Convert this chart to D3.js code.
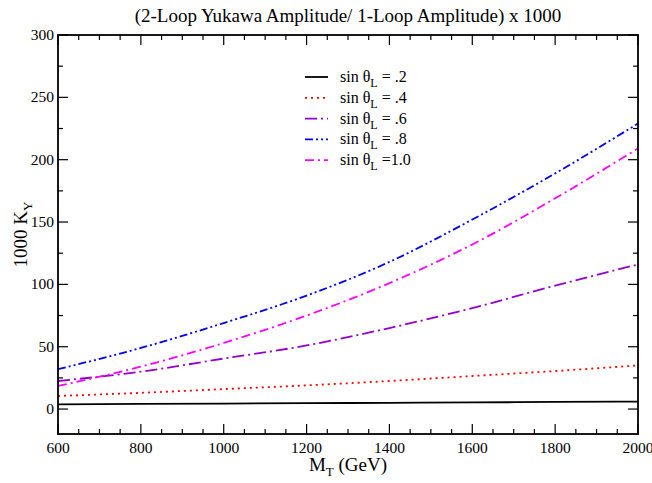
<!DOCTYPE html>
<html><head><meta charset="utf-8">
<script src="https://cdn.jsdelivr.net/npm/d3@7"></script>
<style>body{margin:0;background:#fff}svg{display:block}</style>
</head><body><svg id="c" width="652" height="483"></svg>
<script>
const masses = [600, 800, 1000, 1200, 1400, 1600, 1800, 2000];
const s02 = [3.8, 4.1, 4.4, 4.7, 5.0, 5.3, 5.7, 6.0];
const s04 = [10.5, 13, 16, 19, 22.5, 26.5, 30.5, 35];
const s06 = [22.5, 30, 40.5, 51, 65, 81, 99, 116];
const s08 = [32, 49, 69, 91, 118, 152, 189, 229];
const s10 = [18.5, 34, 53, 75, 101, 132, 169, 209];
const seriesLabels = [" = .2", " = .4", " = .6", " = .8", " =1.0"];
const xTicks = [600, 800, 1000, 1200, 1400, 1600, 1800, 2000];
const yTicks = [0, 50, 100, 150, 200, 250, 300];

const series = [
  {v: s02, color: "#000000", dash: null},
  {v: s04, color: "#ff0000", dash: "2,4"},
  {v: s06, color: "#9400d3", dash: "12,4,2,4"},
  {v: s08, color: "#0000ff", dash: "8,3,2,3,2,3"},
  {v: s10, color: "#ff00ff", dash: "9,4,2,4"}
];

const FONT = "Liberation Serif";
const L = 58, R = 638, T = 35, B = 434;
const x = d3.scaleLinear().domain([600, 2000]).range([L, R]);
const y = d3.scaleLinear().domain([-20, 300]).range([B, T]);
const svg = d3.select("#c");
const txt = (px, py, size, anchor) => svg.append("text").attr("x", px).attr("y", py)
  .attr("font-family", FONT).attr("font-size", size).attr("text-anchor", anchor || "start");

const line = d3.line().x((d, i) => x(masses[i])).y(d => y(d)).curve(d3.curveMonotoneX);
series.forEach(s => {
  svg.append("path").attr("d", line(s.v)).attr("fill", "none")
    .attr("stroke", s.color).attr("stroke-width", 1.8)
    .attr("stroke-dasharray", s.dash);
});

svg.append("rect").attr("x", L).attr("y", T).attr("width", R - L).attr("height", B - T)
  .attr("fill", "none").attr("stroke", "#000").attr("stroke-width", 1.8);

const g = svg.append("g").attr("stroke", "#000").attr("stroke-width", 1.2);
d3.range(600, 2001, 50).forEach(v => {
  const len = (v % 200 === 0) ? 10 : 5;
  g.append("line").attr("x1", x(v)).attr("x2", x(v)).attr("y1", B).attr("y2", B - len);
  g.append("line").attr("x1", x(v)).attr("x2", x(v)).attr("y1", T).attr("y2", T + len);
});
d3.range(0, 301, 25).forEach(v => {
  const len = (v % 50 === 0) ? 10 : 5;
  g.append("line").attr("y1", y(v)).attr("y2", y(v)).attr("x1", L).attr("x2", L + len);
  g.append("line").attr("y1", y(v)).attr("y2", y(v)).attr("x1", R).attr("x2", R - len);
});

xTicks.forEach(v => txt(x(v), B + 19, 15.5, "middle").text(v));
yTicks.forEach(v => txt(L - 4, y(v) + 5, 15.5, "end").text(v));

txt((L + R) / 2, 22, 19, "middle").text("(2-Loop Yukawa Amplitude/ 1-Loop Amplitude) x 1000");

const xl = txt((L + R) / 2, 471, 19, "middle");
xl.append("tspan").text("M");
xl.append("tspan").attr("font-size", 13).attr("dy", 5).text("T");
xl.append("tspan").attr("dy", -5).text(" (GeV)");

const yl = svg.append("text").attr("transform", `translate(27,${(T + B) / 2}) rotate(-90)`)
  .attr("font-family", FONT).attr("text-anchor", "middle").attr("font-size", 19);
yl.append("tspan").text("1000 K");
yl.append("tspan").attr("font-size", 13).attr("dy", 5).text("Y");

series.forEach((s, i) => {
  const yy = 77 + i * 20.8;
  svg.append("line").attr("x1", 305).attr("x2", 328).attr("y1", yy).attr("y2", yy)
    .attr("stroke", s.color).attr("stroke-width", 1.8).attr("stroke-dasharray", s.dash);
  const t = txt(340, yy + 5, 16);
  t.append("tspan").text("sin θ");
  t.append("tspan").attr("font-size", 12).attr("dy", 5).text("L");
  t.append("tspan").attr("dy", -5).text(seriesLabels[i]);
});
</script></body></html>
